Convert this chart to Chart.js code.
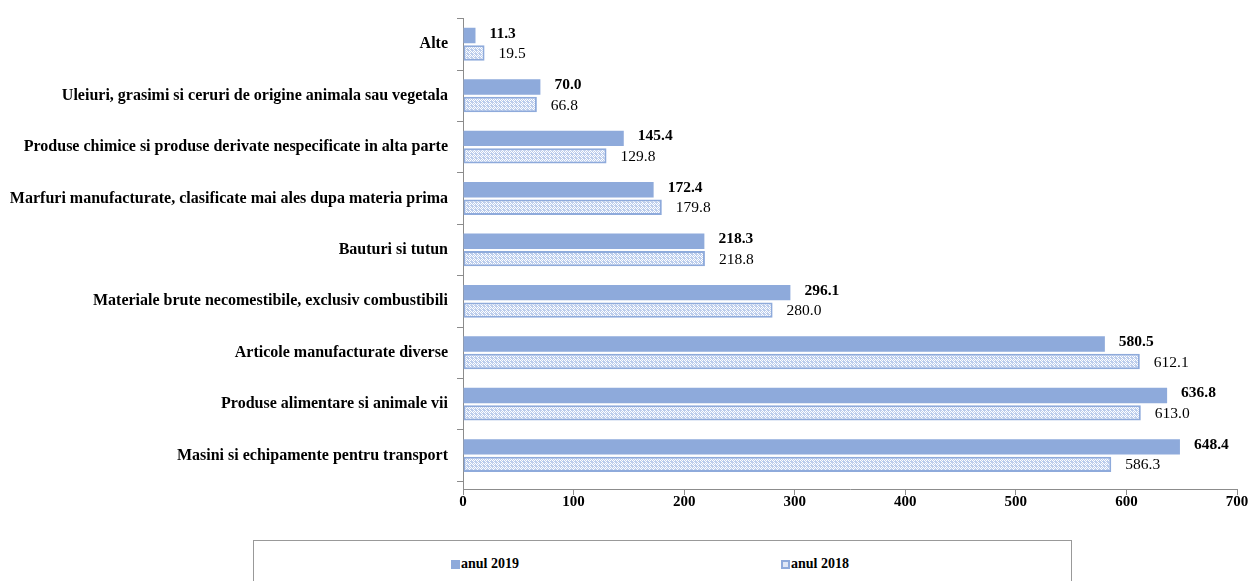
<!DOCTYPE html>
<html>
<head>
<meta charset="utf-8">
<script src="https://cdn.jsdelivr.net/npm/chart.js@4/dist/chart.umd.min.js"></script>
<style>
    body { margin: 0; background: #fff; }
    #wrap { position: relative; width: 1251px; height: 581px; overflow: hidden; }
    #chart { position: absolute; left: 0; top: 0; }
    #legend {
        position: absolute; left: 253px; top: 540px; width: 819px; height: 60px;
        border: 1px solid #999; box-sizing: border-box;
        font-family: 'Liberation Serif', 'Times New Roman', serif; font-weight: bold; font-size: 14px;
    }
    .lg-item { position: absolute; top: 15px; display: flex; align-items: center; }
    .lg-box { width: 9px; height: 9px; margin-right: 1px; box-sizing: border-box; }
</style>
</head>
<body>
<div id="wrap">
    <canvas id="chart" width="1251" height="530"></canvas>
    <div id="legend"></div>
</div>
<script>
// categories top to bottom
const categories = [
    'Alte',
    'Uleiuri, grasimi si ceruri de origine animala sau vegetala',
    'Produse chimice si produse derivate nespecificate in alta parte',
    'Marfuri manufacturate, clasificate mai ales dupa materia prima',
    'Bauturi si tutun',
    'Materiale brute necomestibile, exclusiv combustibili',
    'Articole manufacturate diverse',
    'Produse alimentare si animale vii',
    'Masini si echipamente pentru transport'
];
const values2019 = [11.3, 70.0, 145.4, 172.4, 218.3, 296.1, 580.5, 636.8, 648.4];
const values2018 = [19.5, 66.8, 129.8, 179.8, 218.8, 280.0, 612.1, 613.0, 586.3];
const xTicks = [0, 100, 200, 300, 400, 500, 600, 700];

const SERIF = "'Liberation Serif', 'Times New Roman', serif";
const BLUE = '#8eaadb';

// checkered light pattern used by the 2018 bars
function makePattern() {
    const c = document.createElement('canvas');
    c.width = 4; c.height = 4;
    const g = c.getContext('2d');
    g.fillStyle = '#bccdec';
    g.fillRect(0, 0, 4, 4);
    g.fillStyle = '#ffffff';
    [[0, 0], [1, 1], [2, 0], [0, 2], [2, 2], [3, 3], [1, 3], [3, 1]].forEach(([x, y], k) => {
        if (k % 4 !== 3) g.fillRect(x, y, 1, 1);
    });
    return g.createPattern(c, 'repeat');
}

const valueLabels = {
    id: 'valueLabels',
    afterDatasetsDraw(chart) {
        const ctx = chart.ctx;
        ctx.save();
        ctx.fillStyle = '#000';
        ctx.textBaseline = 'middle';
        ctx.textAlign = 'left';
        chart.data.datasets.forEach((ds, di) => {
            ctx.font = (di === 0 ? 'bold ' : '') + '15.5px ' + SERIF;
            chart.getDatasetMeta(di).data.forEach((bar, i) => {
                ctx.fillText(ds.data[i].toFixed(1), bar.x + 14, bar.y + (di === 0 ? -2 : 1));
            });
        });
        ctx.restore();
    }
};

const chart = new Chart(document.getElementById('chart'), {
    type: 'bar',
    data: {
        labels: categories,
        datasets: [
            {
                label: 'anul 2019', data: values2019,
                backgroundColor: BLUE, borderColor: BLUE, borderWidth: 0,
                categoryPercentage: 0.68, barPercentage: 0.88
            },
            {
                label: 'anul 2018', data: values2018,
                backgroundColor: makePattern(), borderColor: BLUE, borderWidth: 2,
                borderSkipped: false,
                categoryPercentage: 0.68, barPercentage: 0.88
            }
        ]
    },
    options: {
        indexAxis: 'y',
        responsive: false,
        animation: false,
        layout: { padding: { top: 16, right: 14, left: 0, bottom: 0 } },
        plugins: { legend: { display: false }, tooltip: { enabled: false } },
        scales: {
            x: {
                min: 0, max: 700,
                afterBuildTicks: s => { s.ticks = xTicks.map(v => ({ value: v })); },
                afterFit: s => { s.height = 41; },
                grid: { drawOnChartArea: false, tickLength: 6, color: '#8c8c8c' },
                border: { color: '#8c8c8c' },
                ticks: { color: '#000', padding: -2, font: { family: SERIF, size: 15, weight: 'bold' } }
            },
            y: {
                // leave a little empty room under the last category, as in the original
                afterBuildTicks: s => { s._valueRange = categories.length + 0.15; },
                afterFit: s => { s.width = 463; },
                grid: { drawOnChartArea: false, tickLength: 6, color: '#8c8c8c' },
                border: { color: '#8c8c8c' },
                ticks: { color: '#000', padding: 9, autoSkip: false, font: { family: SERIF, size: 16, weight: 'bold' } }
            }
        }
    },
    plugins: [valueLabels]
});

// html legend built from the datasets
const legend = document.getElementById('legend');
const lgX = [197, 527];
chart.data.datasets.forEach((ds, i) => {
    const item = document.createElement('div');
    item.className = 'lg-item';
    item.style.left = lgX[i] + 'px';
    const box = document.createElement('span');
    box.className = 'lg-box';
    if (i === 0) box.style.background = BLUE;
    else { box.style.background = '#dfe7f6'; box.style.border = '2px solid ' + BLUE; }
    const txt = document.createElement('span');
    txt.textContent = ds.label;
    item.appendChild(box);
    item.appendChild(txt);
    legend.appendChild(item);
});
</script>
</body>
</html>
